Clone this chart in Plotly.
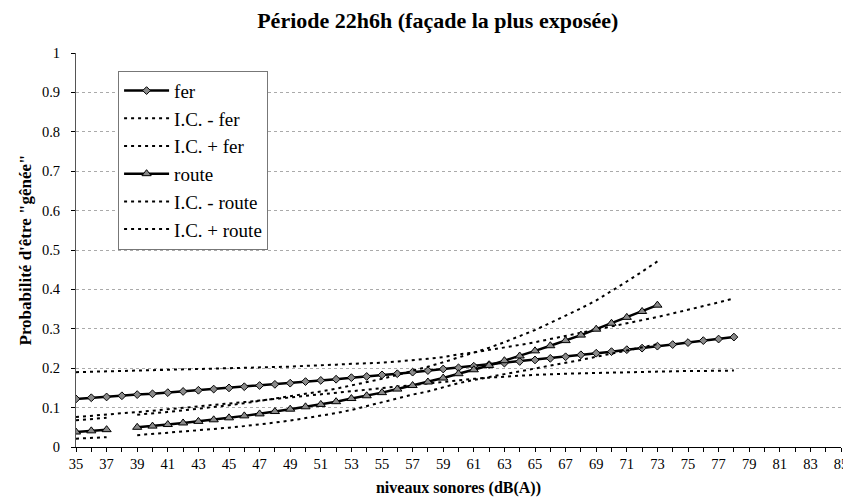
import plotly.graph_objects as go

# niveaux sonores (dB(A))
x_fer = list(range(35, 79))
x_route = list(range(35, 74))

fer = [0.122, 0.125, 0.127, 0.130, 0.133, 0.135, 0.138, 0.141, 0.144, 0.147,
       0.150, 0.153, 0.156, 0.159, 0.162, 0.166, 0.169, 0.172, 0.176, 0.179,
       0.183, 0.186, 0.190, 0.194, 0.198, 0.201, 0.205, 0.209, 0.213, 0.217,
       0.221, 0.225, 0.229, 0.234, 0.238, 0.242, 0.247, 0.251, 0.256, 0.260,
       0.265, 0.270, 0.274, 0.279]
ic_moins_fer = [0.076, 0.079, 0.082, 0.085, 0.089, 0.092, 0.096, 0.099, 0.103, 0.107,
                0.110, 0.114, 0.118, 0.122, 0.126, 0.130, 0.134, 0.138, 0.142, 0.146,
                0.150, 0.154, 0.158, 0.162, 0.166, 0.170, 0.173, 0.176, 0.179, 0.181,
                0.183, 0.185, 0.186, 0.187, 0.188, 0.189, 0.190, 0.191, 0.192, 0.192,
                0.193, 0.193, 0.194, 0.194]
ic_plus_fer = [0.190, 0.191, 0.191, 0.192, 0.193, 0.194, 0.195, 0.196, 0.197, 0.198,
               0.199, 0.200, 0.201, 0.203, 0.204, 0.206, 0.207, 0.209, 0.211, 0.212,
               0.214, 0.217, 0.220, 0.224, 0.228, 0.235, 0.240, 0.246, 0.252, 0.259,
               0.266, 0.274, 0.282, 0.290, 0.298, 0.305, 0.313, 0.321, 0.330, 0.339,
               0.348, 0.357, 0.367, 0.377]

# route : pas de valeur a 38 dB(A)
route = [0.038, 0.041, 0.044, None, 0.050, 0.053, 0.057, 0.061, 0.065, 0.069,
         0.074, 0.079, 0.084, 0.090, 0.096, 0.102, 0.108, 0.115, 0.123, 0.130,
         0.138, 0.147, 0.156, 0.165, 0.175, 0.186, 0.196, 0.207, 0.219, 0.231,
         0.244, 0.257, 0.270, 0.284, 0.299, 0.314, 0.329, 0.344, 0.360]
ic_moins_route = [0.021, 0.023, 0.025, None, 0.030, 0.033, 0.036, 0.039, 0.042, 0.045,
                  0.049, 0.053, 0.057, 0.062, 0.067, 0.073, 0.079, 0.086, 0.094, 0.104,
                  0.114, 0.124, 0.133, 0.141, 0.152, 0.162, 0.170, 0.178, 0.185, 0.192,
                  0.199, 0.206, 0.213, 0.221, 0.229, 0.237, 0.245, 0.253, 0.261]
ic_plus_route = [0.068, 0.071, 0.074, None, 0.082, 0.085, 0.089, 0.093, 0.097, 0.102,
                 0.106, 0.111, 0.117, 0.122, 0.128, 0.134, 0.141, 0.148, 0.156, 0.164,
                 0.173, 0.183, 0.193, 0.204, 0.215, 0.227, 0.240, 0.252, 0.266, 0.281,
                 0.297, 0.315, 0.333, 0.352, 0.372, 0.395, 0.420, 0.445, 0.471]

x_ticks = list(range(35, 86))
x_ticktext = [str(v) if v % 2 == 1 else "" for v in x_ticks]
y_ticks = [0, 0.1, 0.2, 0.3, 0.4, 0.5, 0.6, 0.7, 0.8, 0.9, 1]
y_ticktext = ["0", "0.1", "0.2", "0.3", "0.4", "0.5", "0.6", "0.7", "0.8", "0.9", "1"]

SERIF = "Times New Roman, Liberation Serif, serif"
ci_line = dict(color="black", width=2, dash="3px,4px")

fig = go.Figure()
fig.add_trace(go.Scatter(x=x_fer, y=fer, name="fer", mode="lines+markers",
                         line=dict(color="black", width=2.5),
                         marker=dict(symbol="diamond", size=6, color="#8a8a8a",
                                     line=dict(color="black", width=1))))
fig.add_trace(go.Scatter(x=x_fer, y=ic_moins_fer, name="I.C. - fer", mode="lines",
                         line=ci_line))
fig.add_trace(go.Scatter(x=x_fer, y=ic_plus_fer, name="I.C. + fer", mode="lines",
                         line=ci_line))
fig.add_trace(go.Scatter(x=x_route, y=route, name="route", mode="lines+markers",
                         line=dict(color="black", width=2.5),
                         marker=dict(symbol="triangle-up", size=8, color="#8a8a8a",
                                     line=dict(color="black", width=1))))
fig.add_trace(go.Scatter(x=x_route, y=ic_moins_route, name="I.C. - route", mode="lines",
                         line=ci_line))
fig.add_trace(go.Scatter(x=x_route, y=ic_plus_route, name="I.C. + route", mode="lines",
                         line=ci_line))

fig.update_layout(
    width=851, height=497,
    margin=dict(l=68, r=11, t=45, b=58),
    paper_bgcolor="white", plot_bgcolor="white",
    font=dict(family=SERIF, color="black", size=14),
    title=dict(text="<b>Période 22h6h (façade la plus exposée)</b>",
               x=0.505, xanchor="center", y=0.976, yanchor="middle",
               font=dict(size=22, family=SERIF)),
    legend=dict(x=0.055, y=0.955, xanchor="left", yanchor="top",
                bgcolor="white", bordercolor="#777", borderwidth=1,
                itemwidth=45,
                font=dict(size=19, family=SERIF), tracegroupgap=0),
    showlegend=True,
)
fig.update_xaxes(range=[35, 85], tickmode="array", tickvals=x_ticks, ticktext=x_ticktext,
                 ticks="outside", ticklen=4, tickcolor="black", showline=True,
                 linecolor="black", linewidth=1, showgrid=False, zeroline=False,
                 tickfont=dict(size=14.5),
                 title=dict(text="<b>niveaux sonores (dB(A))</b>", standoff=10,
                            font=dict(size=16)))
fig.update_yaxes(range=[0, 1], tickmode="array", tickvals=y_ticks, ticktext=y_ticktext,
                 ticks="outside", ticklen=4, tickcolor="black", showline=True,
                 linecolor="#555", linewidth=1, showgrid=True, gridcolor="#aaa",
                 griddash="dot", gridwidth=1, zeroline=False,
                 tickfont=dict(size=14.5), ticklabelstandoff=8,
                 title=dict(text="<b>Probabilité d'être \"gênée\"</b>", standoff=6,
                            font=dict(size=17)))

fig.write_html("out.html")
